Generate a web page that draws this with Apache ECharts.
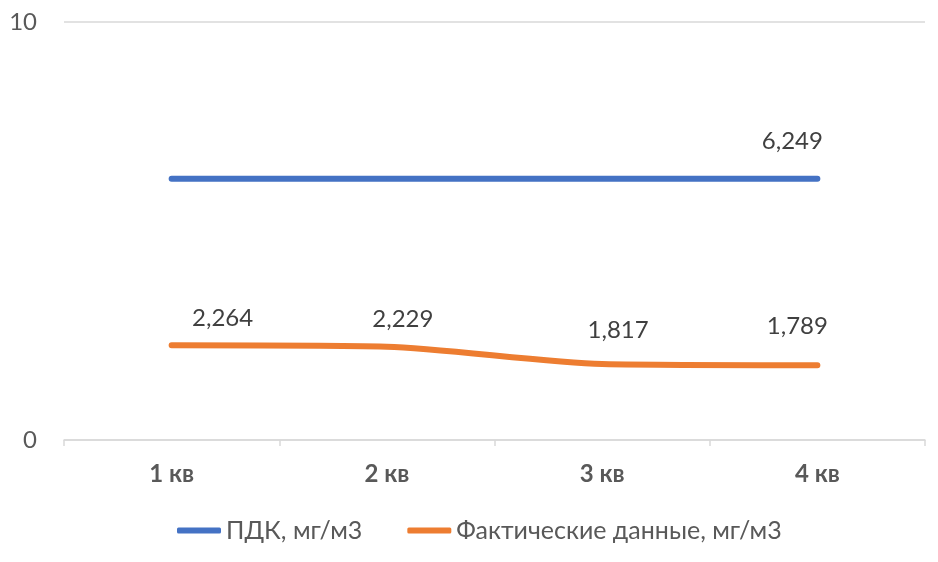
<!DOCTYPE html>
<html>
<head>
<meta charset="utf-8">
<script src="https://cdn.jsdelivr.net/npm/echarts@6/dist/echarts.min.js"></script>
<style>
  html, body { margin: 0; padding: 0; background: #fff; }
  #chart { width: 938px; height: 562px; }
</style>
</head>
<body>
<div id="chart"></div>
<script>
    // данные
    var categories = ['1 кв', '2 кв', '3 кв', '4 кв'];
    var pdkValues = [6.249, 6.249, 6.249, 6.249];
    var factValues = [2.264, 2.229, 1.817, 1.789];
    var seriesNames = ['ПДК, мг/м3', 'Фактические данные, мг/м3'];

    var fontFamily = 'Lato, "Noto Sans", sans-serif';
    // смещения подписей как в Excel
    var factOffsets = [[51, -10], [16, -10], [16, -16], [-20, -21]];

    function fmt(v) {
        return v.toFixed(3).replace('.', ',');
    }

    var chart = echarts.init(document.getElementById('chart'));

    chart.setOption({
        animation: false,
        color: ['#4472C4', '#ED7D31'],
        textStyle: { fontFamily: fontFamily },
        grid: {
            left: 64,
            right: 13,
            top: 22,
            bottom: 122
        },
        legend: {
            bottom: 14,
            left: 172,
            itemWidth: 44,
            itemHeight: 6,
            itemGap: 45,
            textStyle: {
                color: '#595959',
                fontSize: 25,
                fontFamily: fontFamily
            },
            data: [
                { name: seriesNames[0], icon: 'roundRect', itemStyle: { color: '#4472C4' } },
                { name: seriesNames[1], icon: 'roundRect', itemStyle: { color: '#ED7D31' } }
            ]
        },
        xAxis: {
            type: 'category',
            data: categories,
            boundaryGap: true,
            axisLine: {
                lineStyle: { color: '#D9D9D9', width: 1.5 }
            },
            axisTick: {
                show: true,
                length: 6,
                lineStyle: { color: '#D9D9D9', width: 1.5 }
            },
            axisLabel: {
                color: '#595959',
                fontSize: 24,
                fontWeight: 'bold',
                margin: 22,
                fontFamily: fontFamily
            }
        },
        yAxis: {
            type: 'value',
            min: 0,
            max: 10,
            interval: 10,
            axisLine: { show: false },
            axisTick: { show: false },
            axisLabel: {
                color: '#595959',
                fontSize: 24,
                margin: 27,
                fontFamily: fontFamily
            },
            splitLine: {
                lineStyle: { color: '#D9D9D9', width: 1.5 }
            }
        },
        series: [
            {
                name: seriesNames[0],
                type: 'line',
                data: pdkValues.map(function (v, i) {
                    return {
                        value: v,
                        label: { show: i === pdkValues.length - 1 }
                    };
                }),
                symbol: 'circle',
                symbolSize: 1,
                showSymbol: true,
                lineStyle: { width: 6, cap: 'round' },
                label: {
                    position: 'top',
                    distance: 5,
                    offset: [-25, -20],
                    color: '#404040',
                    fontSize: 24,
                    fontFamily: fontFamily,
                    formatter: function (p) { return fmt(p.value); }
                }
            },
            {
                name: seriesNames[1],
                type: 'line',
                smooth: 0.25,
                data: factValues.map(function (v, i) {
                    return {
                        value: v,
                        label: { offset: factOffsets[i] }
                    };
                }),
                symbol: 'circle',
                symbolSize: 1,
                showSymbol: true,
                lineStyle: { width: 6, cap: 'round' },
                label: {
                    show: true,
                    position: 'top',
                    distance: 5,
                    color: '#404040',
                    fontSize: 24,
                    fontFamily: fontFamily,
                    formatter: function (p) { return fmt(p.value); }
                }
            }
        ]
    });
</script>
</body>
</html>
